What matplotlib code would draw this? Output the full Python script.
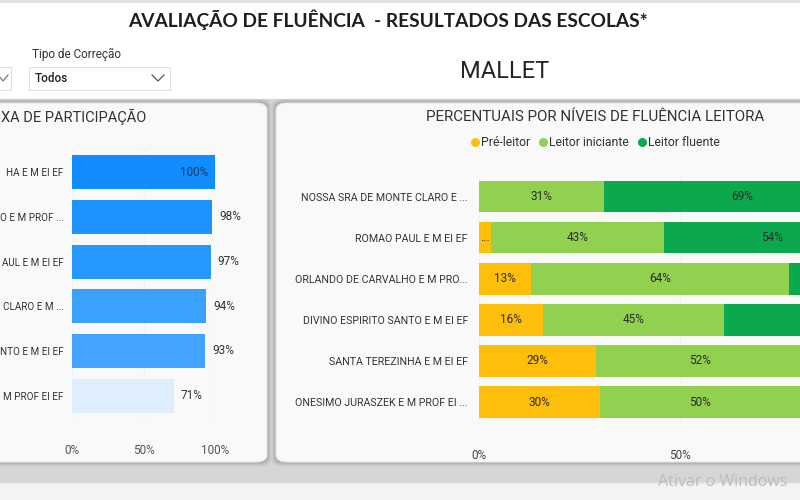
import matplotlib
matplotlib.use("Agg")
import matplotlib.pyplot as plt
import numpy as np
from matplotlib.patches import FancyBboxPatch, Rectangle
from matplotlib.lines import Line2D
from matplotlib.colors import LinearSegmentedColormap, Normalize

plt.rcParams['font.family'] = ['Roboto', 'DejaVu Sans']

# ---------------- data ----------------
main_title = "AVALIAÇÃO DE FLUÊNCIA  - RESULTADOS DAS ESCOLAS*"
city = "MALLET"
filter_label = "Tipo de Correção"
filter_value = "Todos"

# left panel is cropped by the screenshot: only the visible part of the texts
part_title = "XA DE PARTICIPAÇÃO"
part_labels = ["HA E M EI EF", "O E M PROF ...", "AUL E M EI EF",
               "CLARO E M ...", "NTO E M EI EF", "M PROF EI EF"]
part_values = [100, 98, 97, 94, 93, 71]
part_ticks = [0, 50, 100]
part_ticklabels = ["0%", "50%", "100%"]

flu_title = "PERCENTUAIS POR NÍVEIS DE FLUÊNCIA LEITORA"
flu_schools = ["NOSSA SRA DE MONTE CLARO E ...", "ROMAO PAUL E M EI EF",
               "ORLANDO DE CARVALHO E M PRO...", "DIVINO ESPIRITO SANTO E M EI EF",
               "SANTA TEREZINHA E M EI EF", "ONESIMO JURASZEK E M PROF EI ..."]
flu_levels = ["Pré-leitor", "Leitor iniciante", "Leitor fluente"]
pre_leitor = [0, 3, 13, 16, 29, 30]
leitor_iniciante = [31, 43, 64, 45, 52, 50]
leitor_fluente = [69, 54, 23, 39, 19, 20]
flu_ticks = [0, 50]
flu_ticklabels = ["0%", "50%"]

watermark = "Ativar o Windows"

# ---------------- figure ----------------
W, H = 800, 500
fig = plt.figure(figsize=(8, 5), dpi=100)
fig.patch.set_facecolor("white")

def fx(x):
    return x / W

def fy(y):
    return 1 - y / H

def ax_rect(x0, y0, x1, y1):
    return [fx(x0), fy(y1), (x1 - x0) / W, (y1 - y0) / H]

tf = fig.transFigure

# background areas
fig.patches.append(Rectangle((0, fy(3)), 1, 3 / H, transform=tf, facecolor="#e4e4e4", edgecolor="none", zorder=0))
fig.patches.append(Rectangle((0, 0), 1, fy(99), transform=tf, facecolor="#d6d6d6", edgecolor="none", zorder=0))
fig.patches.append(FancyBboxPatch((fx(-20), fy(520)), 980 / W, 37 / H,
                                  boxstyle="round,pad=0,rounding_size=0.012", transform=tf,
                                  facecolor="#f3f3f3", edgecolor="#e2e2e2", lw=1, zorder=0.5))

def panel(x0, y0, x1, y1):
    for i, a in enumerate([0.10, 0.07, 0.04]):
        d = (i + 1) * 1.5
        fig.patches.append(FancyBboxPatch((fx(x0 - d), fy(y1 + d)), (x1 - x0 + 2 * d) / W, (y1 - y0 + 2 * d) / H,
                                          boxstyle="round,pad=0,rounding_size=0.014", transform=tf,
                                          facecolor="black", alpha=a, edgecolor="none", zorder=0.6))
    fig.patches.append(FancyBboxPatch((fx(x0), fy(y1)), (x1 - x0) / W, (y1 - y0) / H,
                                      boxstyle="round,pad=0,rounding_size=0.014", transform=tf,
                                      facecolor="#f9f9f9", edgecolor="#e6e6e6", lw=0.8, zorder=0.8))

panel(-30, 103, 267, 462)
panel(276, 103, 840, 462)

# ---------------- header ----------------
fig.text(fx(388), fy(20), main_title, ha="center", va="center", fontsize=13.8,
         fontweight="bold", color="#1e1e1e", family=["Lato", "DejaVu Sans"])
fig.text(fx(505), fy(72), city, ha="center", va="center", fontsize=17, color="#252525")

fig.text(fx(32), fy(54), filter_label, ha="left", va="center", fontsize=8.5, color="#333333")
fig.patches.append(Rectangle((fx(29), fy(90)), 141 / W, 23 / H, transform=tf,
                             facecolor="white", edgecolor="#e0e0e0", lw=0.8, zorder=1))
fig.patches.append(Rectangle((fx(-10), fy(90)), 21 / W, 23 / H, transform=tf,
                             facecolor="white", edgecolor="#e0e0e0", lw=0.8, zorder=1))
fig.text(fx(35), fy(78), filter_value, ha="left", va="center", fontsize=8.5,
         fontweight="medium", color="#222222", zorder=2)
fig.lines.append(Line2D([fx(152), fx(158), fx(164)], [fy(75), fy(81), fy(75)],
                        transform=tf, color="#555555", lw=0.9, zorder=2))
fig.lines.append(Line2D([fx(-2), fx(3), fx(8)], [fy(75), fy(81), fy(75)],
                        transform=tf, color="#777777", lw=0.9, zorder=2))

# ---------------- participation chart ----------------
ax1 = fig.add_axes(ax_rect(72, 150, 215, 418))
ax1.set_zorder(2)
ax1.patch.set_alpha(0)
cmap = LinearSegmentedColormap.from_list("pbi_blue", ["#deeefd", "#118dff"])
norm = Normalize(vmin=min(part_values), vmax=max(part_values))
ypos = np.arange(len(part_labels))
bars1 = ax1.barh(ypos, part_values, height=0.76, color=cmap(norm(part_values)),
                 edgecolor="none", zorder=2)
ax1.set_xlim(0, 100)
ax1.set_ylim(len(part_labels) - 0.5, -0.5)
ax1.set_yticks(ypos)
ax1.set_yticklabels(part_labels, fontsize=7.1, color="#333333")
ax1.set_xticks(part_ticks)
ax1.set_xticklabels(part_ticklabels, fontsize=8.5, color="#555555")
ax1.tick_params(axis="both", length=0)
ax1.tick_params(axis="y", pad=6)
ax1.tick_params(axis="x", pad=19)
for s in ax1.spines.values():
    s.set_visible(False)
ax1.grid(axis="x", color="#e4e4e4", lw=0.8, ls=(0, (1, 2)), zorder=0)
ax1.set_axisbelow(True)
for rect, v in zip(bars1, part_values):
    yc = rect.get_y() + rect.get_height() / 2
    if v >= 99.5:
        ax1.annotate(f"{v}%", (v, yc), xytext=(-7, 0), textcoords="offset pixels",
                     ha="right", va="center", fontsize=8.5, color="#163a5f", zorder=3)
    else:
        ax1.annotate(f"{v}%", (v, yc), xytext=(7, 0), textcoords="offset pixels",
                     ha="left", va="center", fontsize=8.5, color="#333333", zorder=3)

fig.text(fx(1), fy(117), part_title, ha="left", va="center", fontsize=10.5, color="#333333")

# ---------------- fluency chart ----------------
ax2 = fig.add_axes(ax_rect(479, 176, 881, 422.6))
ax2.set_zorder(2)
ax2.patch.set_alpha(0)
level_colors = ["#fdbf0b", "#92d050", "#0ba84e"]
series = [pre_leitor, leitor_iniciante, leitor_fluente]
ypos2 = np.arange(len(flu_schools))
left = np.zeros(len(flu_schools))
ax2.set_xlim(0, 100)
ax2.set_ylim(len(flu_schools) - 0.5, -0.5)
for vals, col, name in zip(series, level_colors, flu_levels):
    vals = np.array(vals, dtype=float)
    bars = ax2.barh(ypos2, vals, left=left, height=0.77, color=col, edgecolor="none",
                    zorder=2, label=name)
    for rect, v in zip(bars, vals):
        if v <= 0:
            continue
        xc = rect.get_x() + rect.get_width() / 2
        yc = rect.get_y() + rect.get_height() / 2
        px = ax2.transData.transform((xc, yc))[0]
        if px > W - 14:   # label lies beyond the screenshot's edge
            continue
        txt = f"{int(v)}%" if v >= 8 else "..."
        ax2.text(xc, yc, txt, ha="center", va="center", fontsize=8.5, color="#2b2b2b", zorder=3)
    left += vals
ax2.set_yticks(ypos2)
ax2.set_yticklabels(flu_schools, fontsize=7.7, color="#333333")
ax2.set_xticks(flu_ticks)
ax2.set_xticklabels(flu_ticklabels, fontsize=8.5, color="#444444")
ax2.tick_params(axis="both", length=0)
ax2.tick_params(axis="y", pad=8)
ax2.tick_params(axis="x", pad=19)
for s in ax2.spines.values():
    s.set_visible(False)
ax2.grid(axis="x", color="#e4e4e4", lw=0.8, ls=(0, (1, 2)), zorder=0)
ax2.set_axisbelow(True)

fig.text(fx(595), fy(117), flu_title, ha="center", va="center", fontsize=10.9, color="#333333")
handles = [Line2D([], [], marker="o", ls="none", markersize=6.5, markerfacecolor=c,
                  markeredgecolor="none") for c in level_colors]
leg = fig.legend(handles, flu_levels, loc="center", bbox_to_anchor=(fx(595), fy(143)),
                 ncol=3, frameon=False, fontsize=8.8, handletextpad=0.05,
                 columnspacing=0.7, handlelength=0.8, borderaxespad=0)
for t in leg.get_texts():
    t.set_color("#333333")

# ---------------- watermark ----------------
fig.text(fx(723), fy(482), watermark, ha="center", va="center", fontsize=11.5,
         color="#bcbcbc", family=["Open Sans", "DejaVu Sans"], zorder=5)

fig.savefig("out.png", dpi=100, facecolor=fig.get_facecolor())
